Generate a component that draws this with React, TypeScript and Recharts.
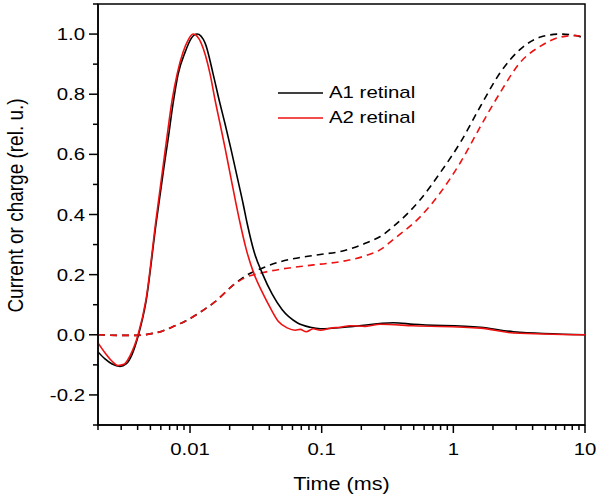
import React from 'react';
import { LineChart, Line, XAxis, YAxis, ReferenceArea } from 'recharts';

// ---- data (time in ms, values in rel. units) ----
const a1CurrentTime = [0.002, 0.00226, 0.00256, 0.00294, 0.00327, 0.00363, 0.00403, 0.00463, 0.00552, 0.00635, 0.00681, 0.00744, 0.00812, 0.00918, 0.01019, 0.01132, 0.01302, 0.01498, 0.01665, 0.01848, 0.02053, 0.02321, 0.02533, 0.02717, 0.03071, 0.03533, 0.04209, 0.05014, 0.06519, 0.08188, 0.09755, 0.165, 0.3503, 0.497, 1.607, 2.863, 10];
const a1CurrentValue = [-0.057, -0.08, -0.097, -0.105, -0.097, -0.065, -0.005, 0.11, 0.37, 0.56, 0.65, 0.77, 0.867, 0.94, 0.985, 1.0, 0.97, 0.867, 0.78, 0.7, 0.615, 0.51, 0.435, 0.37, 0.275, 0.205, 0.135, 0.083, 0.04, 0.025, 0.02, 0.027, 0.04, 0.035, 0.025, 0.01, 0.0];

const a2CurrentTime = [0.002, 0.00226, 0.00256, 0.00284, 0.00315, 0.0035, 0.00403, 0.00463, 0.00552, 0.00624, 0.00669, 0.00731, 0.00798, 0.00886, 0.00967, 0.01055, 0.01215, 0.01421, 0.01551, 0.01694, 0.01848, 0.02017, 0.02203, 0.02404, 0.0267, 0.03018, 0.03596, 0.04064, 0.04675, 0.05473, 0.06295, 0.06872, 0.07633, 0.0863, 0.09755, 0.1162, 0.1384, 0.165, 0.2145, 0.2789, 0.497, 1.607, 2.863, 10];
const a2CurrentValue = [-0.027, -0.06, -0.088, -0.102, -0.098, -0.07, 0.0, 0.117, 0.383, 0.56, 0.66, 0.78, 0.867, 0.94, 0.98, 1.0, 0.97, 0.867, 0.78, 0.7, 0.62, 0.535, 0.45, 0.37, 0.285, 0.21, 0.135, 0.09, 0.045, 0.023, 0.015, 0.018, 0.01, 0.02, 0.015, 0.022, 0.025, 0.03, 0.028, 0.035, 0.03, 0.022, 0.006, 0.0];

const a1ChargeTime = [0.002, 0.00294, 0.00403, 0.00497, 0.00613, 0.0077, 0.00918, 0.01193, 0.01551, 0.02126, 0.02623, 0.03596, 0.04842, 0.06872, 0.09755, 0.1384, 0.2221, 0.2789, 0.3503, 0.562, 0.7979, 1.132, 1.607, 2.28, 3.237, 4.594, 6.521, 8.479, 10];
const a1ChargeValue = [0.0, -0.002, -0.002, 0.003, 0.012, 0.03, 0.045, 0.075, 0.11, 0.165, 0.195, 0.223, 0.243, 0.257, 0.267, 0.277, 0.307, 0.327, 0.36, 0.45, 0.54, 0.64, 0.76, 0.873, 0.95, 0.99, 1.0, 0.995, 0.985];

const a2ChargeTime = [0.002, 0.00294, 0.00403, 0.00497, 0.00613, 0.0077, 0.00918, 0.01193, 0.01551, 0.02126, 0.02623, 0.03596, 0.04842, 0.06872, 0.09755, 0.1384, 0.2221, 0.2789, 0.3503, 0.562, 0.7979, 1.132, 1.607, 2.28, 3.237, 4.594, 6.521, 8.479, 10];
const a2ChargeValue = [0.0, -0.002, -0.002, 0.003, 0.012, 0.03, 0.045, 0.075, 0.11, 0.165, 0.19, 0.207, 0.218, 0.227, 0.235, 0.243, 0.265, 0.283, 0.317, 0.393, 0.473, 0.573, 0.693, 0.807, 0.907, 0.96, 0.99, 0.995, 0.99];

const xTicks = [0.002, 0.003, 0.004, 0.005, 0.006, 0.007, 0.008, 0.009, 0.01, 0.02, 0.03, 0.04, 0.05, 0.06, 0.07, 0.08, 0.09, 0.1, 0.2, 0.3, 0.4, 0.5, 0.6, 0.7, 0.8, 0.9, 1, 2, 3, 4, 5, 6, 7, 8, 9, 10];
const xMajorTicks = [0.01, 0.1, 1, 10];
const xMajorLabels = ['0.01', '0.1', '1', '10'];
const yTicks = [-0.3, -0.2, -0.1, 0, 0.1, 0.2, 0.3, 0.4, 0.5, 0.6, 0.7, 0.8, 0.9, 1.0, 1.1];
const yMajorTicks = [-0.2, 0, 0.2, 0.4, 0.6, 0.8, 1.0];
const yMajorLabels = ['-0.2', '0.0', '0.2', '0.4', '0.6', '0.8', '1.0'];

const seriesNames = ['A1 retinal', 'A2 retinal'];
const BLACK = '#000000';
const RED = '#ee1111';
const FONT = '"Liberation Sans", Arial, sans-serif';

const toPoints = (ts: number[], vs: number[]) => ts.map((t, i) => ({ t, v: vs[i] }));
const a1Current = toPoints(a1CurrentTime, a1CurrentValue);
const a2Current = toPoints(a2CurrentTime, a2CurrentValue);
const a1Charge = toPoints(a1ChargeTime, a1ChargeValue);
const a2Charge = toPoints(a2ChargeTime, a2ChargeValue);

const findIdx = (arr: number[], v: number) => arr.findIndex((a) => Math.abs(a - v) < 1e-9);

const XTick = (props: any) => {
  const { x, y, payload } = props;
  const idx = findIdx(xMajorTicks, payload.value);
  const major = idx >= 0;
  return (
    <g>
      <line x1={x} x2={x} y1={y} y2={y + (major ? 8 : 5)} stroke="#000" strokeWidth={1.5} />
      {major && (
        <text transform={`translate(${x},${y + 30}) scale(1.2,1)`} textAnchor="middle" fontFamily={FONT} fontSize={17} fill="#000">
          {xMajorLabels[idx]}
        </text>
      )}
    </g>
  );
};

const YTick = (props: any) => {
  const { x, y, payload } = props;
  const idx = findIdx(yMajorTicks, payload.value);
  const major = idx >= 0;
  return (
    <g>
      <line x1={x - (major ? 9 : 5)} x2={x} y1={y} y2={y} stroke="#000" strokeWidth={1.5} />
      {major && (
        <text transform={`translate(${x - 13},${y + 6}) scale(1.2,1)`} textAnchor="end" fontFamily={FONT} fontSize={17} fill="#000">
          {yMajorLabels[idx]}
        </text>
      )}
    </g>
  );
};

const XTitle = (props: any) => {
  const vb = props.viewBox || { x: 98, y: 425, width: 487, height: 74 };
  const cx = vb.x + vb.width / 2;
  return (
    <text transform={`translate(${cx},${vb.y + 65}) scale(1.2,1)`} textAnchor="middle" fontFamily={FONT} fontSize={18} fill="#000">
      Time (ms)
    </text>
  );
};

const YTitle = (props: any) => {
  const vb = props.viewBox || { x: 0, y: 4, width: 98, height: 421 };
  const cy = vb.y + vb.height / 2 - 9;
  return (
    <text transform={`translate(${vb.x + 23},${cy}) rotate(-90) scale(1,1.2)`} textAnchor="middle" fontFamily={FONT} fontSize={19} fill="#000">
      Current or charge (rel. u.)
    </text>
  );
};

const LegendBox = () => (
  <div style={{ position: 'absolute', left: 278, top: 80, fontFamily: FONT, fontSize: 17, color: '#000' }}>
    {seriesNames.map((name, i) => (
      <div key={name} style={{ display: 'flex', alignItems: 'center', height: 25 }}>
        <svg width={45} height={4} style={{ display: 'block' }}>
          <line x1={0} x2={45} y1={2} y2={2} stroke={i === 0 ? BLACK : RED} strokeWidth={1.6} />
        </svg>
        <span style={{ marginLeft: 6, display: 'inline-block', transform: 'scaleX(1.2)', transformOrigin: 'left center', whiteSpace: 'nowrap' }}>{name}</span>
      </div>
    ))}
  </div>
);

export default function App() {
  return (
    <div style={{ position: 'absolute', left: 0, top: 0, width: 600, height: 499, background: '#fff' }}>
      <LineChart width={600} height={499} margin={{ top: 4, right: 15, bottom: 0, left: 0 }}>
        <XAxis
          dataKey="t"
          type="number"
          scale="log"
          domain={[0.002, 10]}
          allowDataOverflow
          ticks={xTicks}
          interval={0}
          tick={<XTick />}
          tickLine={false}
          tickSize={0}
          tickMargin={0}
          height={74}
          axisLine={{ stroke: '#000', strokeWidth: 1.5 }}
          label={XTitle}
        />
        <YAxis
          dataKey="v"
          type="number"
          domain={[-0.3, 1.1]}
          allowDataOverflow
          ticks={yTicks}
          interval={0}
          tick={<YTick />}
          tickLine={false}
          tickSize={0}
          tickMargin={0}
          width={98}
          axisLine={{ stroke: '#000', strokeWidth: 1.5 }}
          label={YTitle}
        />
        <ReferenceArea x1={0.002} x2={10} y1={-0.3} y2={1.1} fill="none" stroke="#000" strokeWidth={1.5} ifOverflow="visible" />
        <Line data={a1Charge} dataKey="v" type="monotoneX" stroke={BLACK} strokeWidth={1.6} strokeDasharray="7 5" dot={false} isAnimationActive={false} />
        <Line data={a2Charge} dataKey="v" type="monotoneX" stroke={RED} strokeWidth={1.6} strokeDasharray="7 5" dot={false} isAnimationActive={false} />
        <Line data={a1Current} dataKey="v" type="monotoneX" stroke={BLACK} strokeWidth={1.6} dot={false} isAnimationActive={false} />
        <Line data={a2Current} dataKey="v" type="monotoneX" stroke={RED} strokeWidth={1.6} dot={false} isAnimationActive={false} />
      </LineChart>
      <LegendBox />
    </div>
  );
}
